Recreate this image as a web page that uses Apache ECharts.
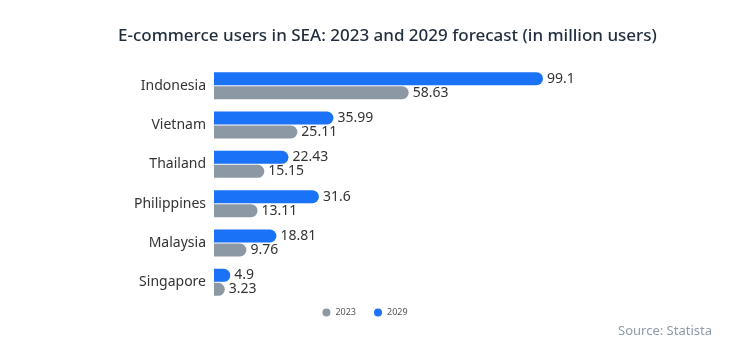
<!DOCTYPE html>
<html><head><meta charset="utf-8">
<script src="https://cdn.jsdelivr.net/npm/echarts@6/dist/echarts.min.js"></script>
<style>html,body{margin:0;padding:0;background:#fff}#c{width:730px;height:345px}</style>
</head><body><div id="c"></div>
<script>
const categories = ['Indonesia','Vietnam','Thailand','Philippines','Malaysia','Singapore'];
const values2029 = [99.1, 35.99, 22.43, 31.6, 18.81, 4.9];
const values2023 = [58.63, 25.11, 15.15, 13.11, 9.76, 3.23];
const chart = echarts.init(document.getElementById('c'));
const font = '"Noto Sans", sans-serif';
chart.setOption({
  animation:false,
  title:[{text:'E-commerce users in SEA: 2023 and 2029 forecast (in million users)',left:113,top:23,
    textStyle:{fontFamily:font,fontSize:17,fontWeight:500,color:'#1f2d3d'}},
    {text:'Source: Statista',right:13,top:320,textStyle:{fontFamily:font,fontSize:13,fontWeight:'normal',color:'#8e9bab'}}],
  legend:{data:['2023','2029'],bottom:23,left:'center',icon:'circle',itemWidth:8,itemHeight:8,itemGap:18,
    textStyle:{fontFamily:font,fontSize:9,color:'#555'}},
  grid:{left:214,right:184,top:66,bottom:43},
  xAxis:{type:'value',min:0,max:100,show:false},
  yAxis:{type:'category',data:categories,inverse:true,axisLine:{show:false},axisTick:{show:false},
    axisLabel:{fontFamily:font,fontSize:14,color:'#333',margin:8}},
  series:[
    {name:'2029',type:'bar',data:values2029,barWidth:13,barGap:'8%',itemStyle:{color:'#1a72f7',borderRadius:[0,7,7,0]},
     label:{show:true,position:'right',distance:4,fontFamily:font,fontSize:14,color:'#333'}},
    {name:'2023',type:'bar',data:values2023,barWidth:13,itemStyle:{color:'#8c98a4',borderRadius:[0,7,7,0]},
     label:{show:true,position:'right',distance:4,fontFamily:font,fontSize:14,color:'#333'}}
  ]
});
</script></body></html>
